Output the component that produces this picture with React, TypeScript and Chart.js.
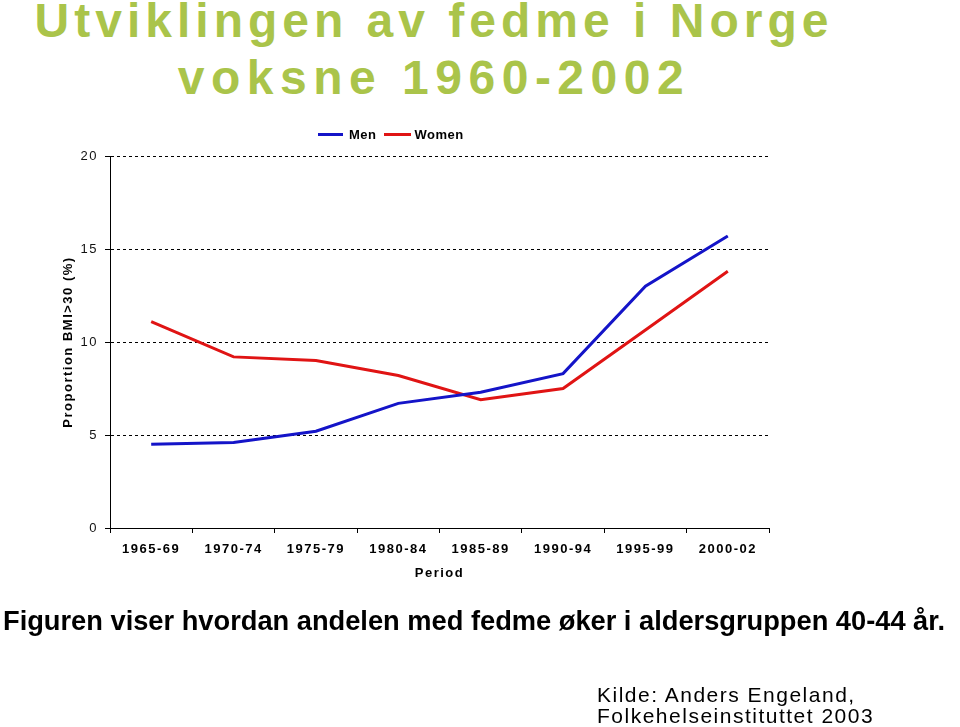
import React, { useEffect, useRef } from "react";
import { Chart, registerables } from "chart.js";

Chart.register(...registerables);

const periods = ["1965-69", "1970-74", "1975-79", "1980-84", "1985-89", "1990-94", "1995-99", "2000-02"];
const men = [4.5, 4.6, 5.2, 6.7, 7.3, 8.3, 13.0, 15.7];
const women = [11.1, 9.2, 9.0, 8.2, 6.9, 7.5, 10.65, 13.8];
const yTicks = [0, 5, 10, 15, 20];

const BLUE = "#1414c8";
const RED = "#e01414";
const GREEN = "#aac44a";

const spacingPlugin = {
  id: "letterSpacing",
  beforeLayout: (c: any) => { c.ctx.letterSpacing = "1.5px"; },
  beforeDraw: (c: any) => { c.ctx.letterSpacing = "1.5px"; },
};

export default function App() {
  const ref = useRef<HTMLCanvasElement | null>(null);

  useEffect(() => {
    document.body.style.margin = "0";
    const canvas = ref.current;
    if (!canvas) return;
    const fam = "Arial, 'Liberation Sans', sans-serif";
    const chart = new Chart(canvas, {
      type: "line",
      data: {
        labels: periods,
        datasets: [
          { label: "Men", data: men, borderColor: BLUE, backgroundColor: BLUE, borderWidth: 3, pointRadius: 0, tension: 0 },
          { label: "Women", data: women, borderColor: RED, backgroundColor: RED, borderWidth: 3, pointRadius: 0, tension: 0 },
        ],
      },
      options: {
        animation: false,
        responsive: false,
        maintainAspectRatio: false,
        layout: { padding: { left: 57, right: 191, top: 156, bottom: 142 } },
        plugins: { legend: { display: false }, tooltip: { enabled: false }, title: { display: false } },
        scales: {
          x: {
            type: "category",
            offset: true,
            grid: { offset: true, drawOnChartArea: false, drawTicks: true, tickLength: 5, color: "#000", tickColor: "#000" },
            border: { display: true, color: "#000", width: 1 },
            ticks: { color: "#000", font: { family: fam, size: 13, weight: "bold" }, padding: 9, maxRotation: 0, autoSkip: false },
            title: { display: true, text: "Period", color: "#000", font: { family: fam, size: 13, weight: "bold" }, padding: { top: 4, bottom: 4 } },
            afterFit: (s: any) => { s.height = 57; },
          },
          y: {
            min: 0,
            max: 20,
            afterBuildTicks: (s: any) => { s.ticks = yTicks.map((v) => ({ value: v })); },
            grid: {
              color: (ctx: any) => (ctx.tick && ctx.tick.value === 0 ? "rgba(0,0,0,0)" : "#000"),
              tickColor: "#000",
              lineWidth: 1,
              drawTicks: true,
              tickLength: 5,
              tickBorderDash: [],
            },
            border: { display: true, color: "#000", width: 1, dash: [3, 3] },
            ticks: { color: "#111", font: { family: fam, size: 13 }, padding: 7 },
            title: { display: true, text: "Proportion BMI>30 (%)", color: "#000", font: { family: fam, size: 13, weight: "bold" }, padding: { top: 4, bottom: 4 } },
            afterFit: (s: any) => { s.width = 53; },
          },
        },
      },
      plugins: [spacingPlugin],
    } as any);
    return () => chart.destroy();
  }, []);

  const font = "Arial, 'Liberation Sans', sans-serif";
  return (
    <div style={{ position: "fixed", left: 0, top: 0, width: 960, height: 727, overflow: "hidden", background: "#fff", fontFamily: font }}>
      <div style={{ position: "absolute", left: 2, top: -8, width: 864, textAlign: "center", color: GREEN, fontWeight: "bold", fontSize: 48, letterSpacing: 5, lineHeight: "57px", whiteSpace: "nowrap" }}>
        <div>Utviklingen av fedme i Norge</div>
        <div style={{ letterSpacing: 6.5 }}>voksne 1960-2002</div>
      </div>
      <canvas ref={ref} width={960} height={727} style={{ position: "absolute", left: 0, top: 0, width: 960, height: 727 }} />
      <div style={{ position: "absolute", left: 318, top: 127, fontSize: 13, letterSpacing: 0.5, fontWeight: "bold", color: "#000", display: "flex", alignItems: "center", whiteSpace: "nowrap", height: 14 }}>
        <span style={{ display: "inline-block", width: 25, height: 3, background: BLUE, marginRight: 6 }} />
        <span style={{ marginRight: 7 }}>Men</span>
        <span style={{ display: "inline-block", width: 27, height: 3, background: RED, marginRight: 4 }} />
        <span>Women</span>
      </div>
      <div style={{ position: "absolute", left: 3, top: 605, fontSize: 27.25, fontWeight: "bold", color: "#000", whiteSpace: "nowrap", lineHeight: "32px" }}>
        Figuren viser hvordan andelen med fedme øker i aldersgruppen 40-44 år.
      </div>
      <div style={{ position: "absolute", left: 597, top: 684, fontSize: 21, color: "#000", whiteSpace: "nowrap", lineHeight: "21px", letterSpacing: 1.5 }}>
        <div>Kilde: Anders Engeland,</div>
        <div>Folkehelseinstituttet 2003</div>
      </div>
    </div>
  );
}
